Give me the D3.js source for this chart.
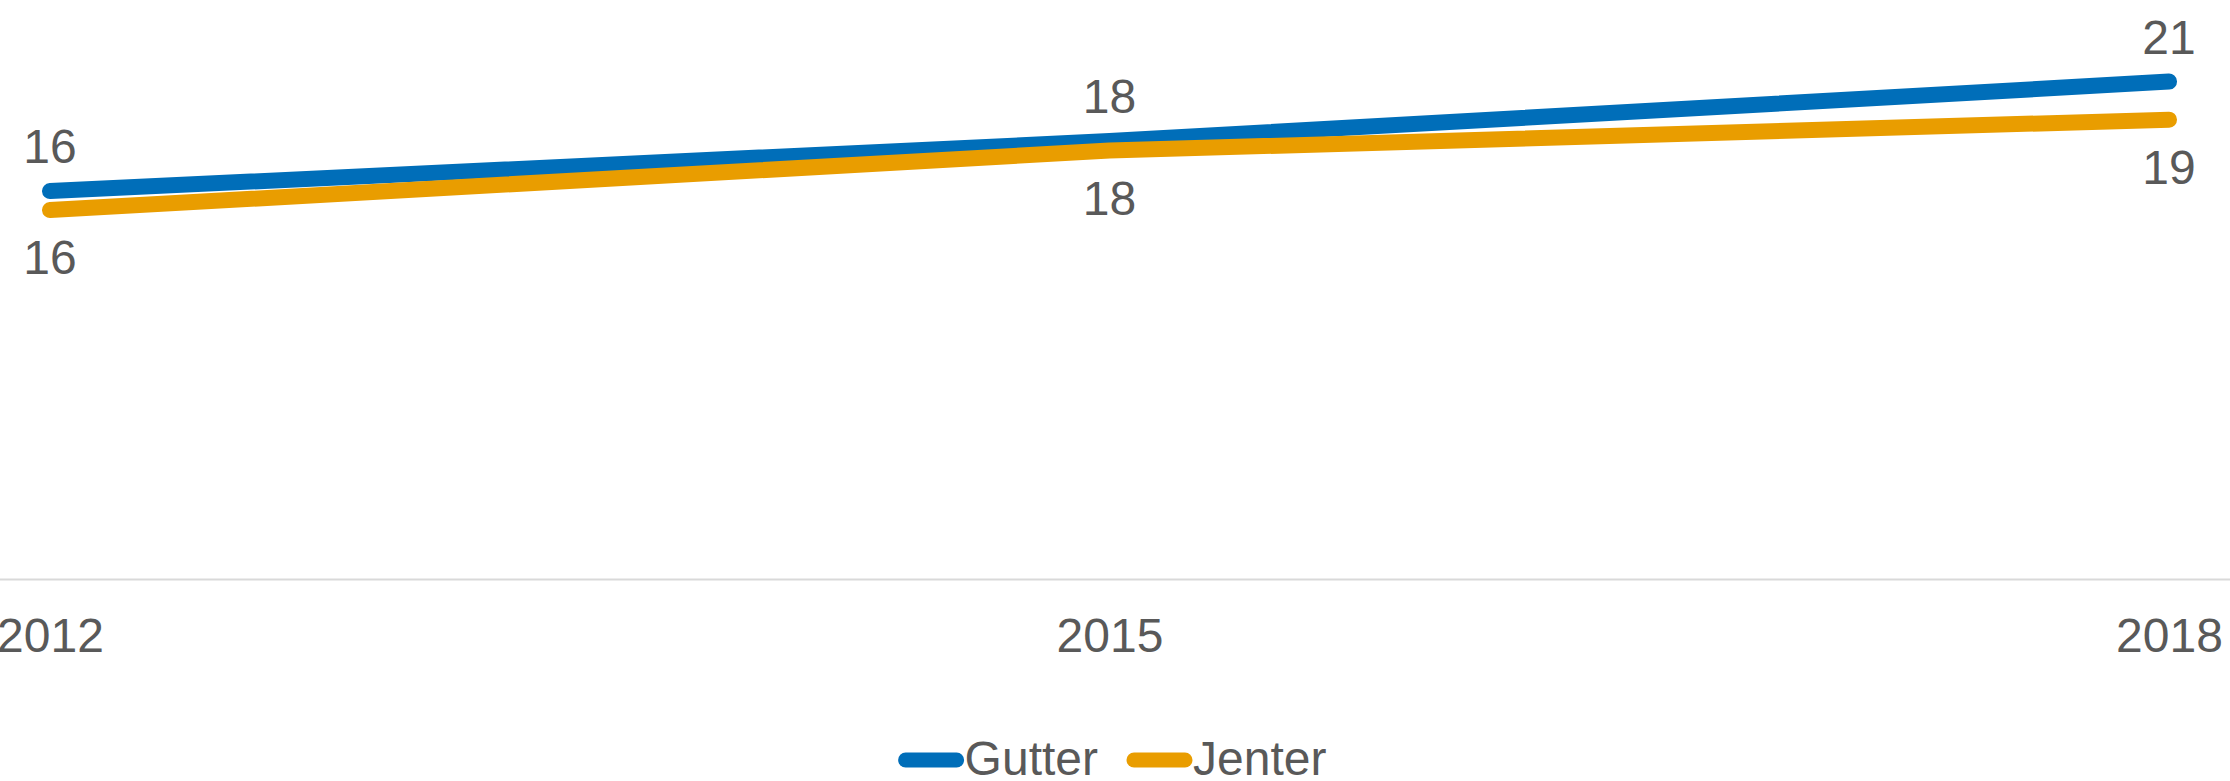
<!DOCTYPE html>
<html>
<head>
<meta charset="utf-8">
<script src="https://cdn.jsdelivr.net/npm/d3@7"></script>
<style>
  html, body { margin: 0; padding: 0; background: #fff; }
  svg { display: block; font-family: "Liberation Sans", Arial, sans-serif; }
</style>
</head>
<body>
<script>
var years = ['2012', '2015', '2018'];
var gutter = [16.3, 18.4, 20.9];
var jenter = [15.5, 18.0, 19.3];
var seriesNames = ['Gutter', 'Jenter'];
var seriesColors = ['#006EB9', '#E99D00'];

var W = 2230, H = 781;
var svg = d3.select('body').append('svg').attr('width', W).attr('height', H);

var x = d3.scalePoint().domain(years).range([50, 2169]);
var y = d3.scaleLinear().domain([0, 24]).range([579, 579 - 24 * 23.8]);

// x axis baseline
svg.append('line').attr('x1', 0).attr('x2', W).attr('y1', 579.5).attr('y2', 579.5)
  .attr('stroke', '#d9d9d9').attr('stroke-width', 2);

var xAxis = svg.append('g').attr('transform', 'translate(0,579)')
  .call(d3.axisBottom(x).tickSize(0).tickPadding(0));
xAxis.select('.domain').remove();
xAxis.selectAll('text').attr('y', 73).attr('dy', null)
  .attr('font-size', 48).attr('fill', '#595959').attr('font-family', '"Liberation Sans", Arial, sans-serif');

var series = [gutter, jenter];
var line = d3.line().x(function(d, i) { return x(years[i]); }).y(function(d) { return y(d); });

series.forEach(function(s, k) {
  svg.append('path').datum(s).attr('d', line).attr('fill', 'none')
    .attr('stroke', seriesColors[k]).attr('stroke-width', 16)
    .attr('stroke-linecap', 'round').attr('stroke-linejoin', 'round');
});

// data labels: Gutter above, Jenter below
series.forEach(function(s, k) {
  svg.selectAll('.lab' + k).data(s).enter().append('text')
    .attr('x', function(d, i) { return x(years[i]); })
    .attr('y', function(d) { return k == 0 ? y(d) - 28 : y(d) + 64; })
    .attr('text-anchor', 'middle').attr('font-size', 48).attr('fill', '#595959')
    .text(function(d) { return Math.round(d); });
});

// legend
var leg = svg.append('g');
var cx = 0;
seriesNames.forEach(function(n, k) {
  leg.append('line').attr('x1', cx + 8).attr('x2', cx + 59).attr('y1', 760).attr('y2', 760)
    .attr('stroke', seriesColors[k]).attr('stroke-width', 15).attr('stroke-linecap', 'round');
  var t = leg.append('text').attr('x', cx + 67).attr('y', 775).attr('font-size', 48)
    .attr('fill', '#595959').text(n);
  cx += 67 + t.node().getComputedTextLength() + 28;
});
var lw = cx - 28;
leg.attr('transform', 'translate(' + (1112 - lw / 2) + ',0)');
</script>
</body>
</html>
